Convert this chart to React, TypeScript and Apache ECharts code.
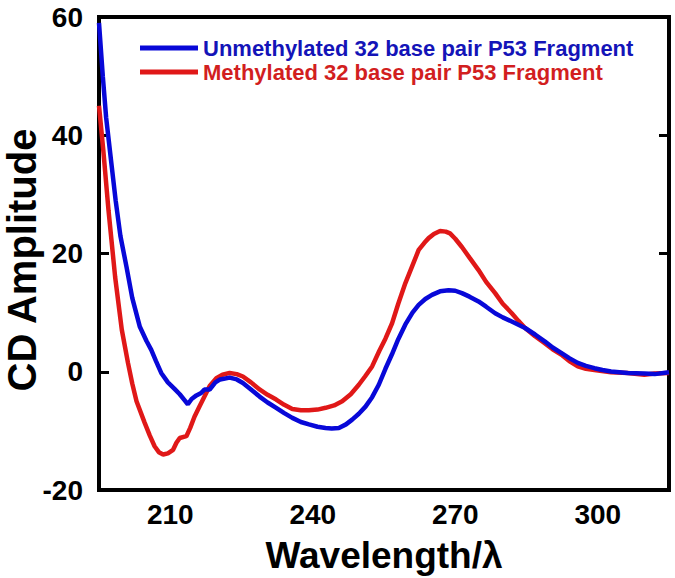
import React, { useEffect, useRef } from "react";
import * as echarts from "echarts";

const xTickLabels = [210, 240, 270, 300];
const yTickValues = [-20, 0, 20, 40, 60];

const seriesNames = [
  "Unmethylated 32 base pair P53 Fragment",
  "Methylated 32 base pair P53 Fragment",
];

const unmethWavelength = [
  195, 195.8, 196.5, 197.5, 198.5, 199.5, 200.8, 202, 203.6, 205, 206, 207, 208.1, 209.5, 210.9, 212, 213, 213.7,
  214.5, 215.5, 216.5, 217.2, 218.3, 219.5, 220.5, 222.5, 224, 225.3, 227, 228.8, 230.5, 232.3, 234, 235.7, 237.5,
  239.2, 241, 242.7, 244, 245.5, 247, 248.3, 249.7, 251.1, 252.5, 253.9, 255.3, 256.7, 258, 259.5, 261, 262.3,
  263.7, 265.1, 266.8, 268.6, 270, 271.4, 273, 274.9, 276.5, 278.4, 280, 281.9, 284.7, 286.8, 288.9, 290.5, 292.3,
  294, 295.8, 297.5, 299.3, 301, 302.8, 306.3, 309.8, 312, 315,
];
const unmethValues = [
  59, 50, 43, 36, 29, 23, 17.7, 12.5, 7.6, 5.2, 3.7, 1.8, -0.2, -1.8, -2.9, -3.8, -4.8, -5.5,
  -4.6, -4.0, -3.6, -3.0, -3.0, -1.8, -1.3, -1.0, -1.3, -1.9, -3.0, -4.2, -5.2, -6.1, -7.0, -7.8, -8.5,
  -8.9, -9.3, -9.5, -9.6, -9.5, -8.9, -8.1, -7.1, -5.9, -4.3, -2.2, 0.5, 3.0, 5.5, 8.0, 10.0, 11.3,
  12.3, 13.0, 13.6, 13.8, 13.7, 13.3, 12.7, 11.9, 11.0, 9.9, 9.2, 8.5, 7.4, 6.3, 5.1, 4.1, 3.2,
  2.3, 1.5, 1.0, 0.6, 0.3, 0.05, -0.2, -0.3, -0.4, -0.1,
];

const methWavelength = [
  195, 195.9, 197, 198.4, 199.8, 201.1, 202, 202.9, 204.6, 205.7, 206.7, 207.6, 208.5, 209.5, 210.6, 211.3, 212,
  213.4, 214.2, 215.1, 216.2, 217.2, 218.3, 219.7, 221, 222.5, 224, 225.3, 227, 228.8, 230.5, 232.3, 234, 235.7,
  237.5, 239.2, 241, 242.7, 244.5, 246.2, 248, 249.7, 251, 252.5, 254, 255.3, 256.7, 258, 259.5, 261, 262.3,
  263.5, 264.4, 265.5, 266.8, 268, 268.9, 270, 271.4, 273, 274.9, 276.5, 278.4, 280, 281.9, 283.3, 284.7, 286.8,
  288.9, 290.5, 292.3, 294, 295.8, 297.5, 299.3, 302.8, 306.3, 309.8, 312, 315,
];
const methValues = [
  45, 37.5, 27.3, 16.0, 7.1, 1.5, -2.0, -5.0, -8.6, -10.8, -12.6, -13.6, -14.0, -13.8, -13.2, -12.0, -11.2,
  -10.9, -9.5, -7.6, -5.8, -4.2, -2.4, -1.1, -0.5, -0.2, -0.4, -0.8, -1.8, -3.0, -3.9, -4.7, -5.6, -6.3,
  -6.5, -6.5, -6.4, -6.1, -5.7, -5.0, -3.8, -2.2, -0.8, 0.9, 3.5, 5.6, 8.2, 11.5, 15.0, 18.0, 20.6,
  21.8, 22.6, 23.3, 23.8, 23.7, 23.4, 22.5, 21.1, 19.3, 17.2, 15.2, 13.3, 11.5, 9.9, 8.6, 7.4, 6.0,
  4.8, 3.8, 2.9, 1.8, 0.9, 0.5, 0.3, -0.1, -0.2, -0.5, -0.3, -0.2,
];

const FONT = "Liberation Sans, Arial, sans-serif";

export default function App() {
  const ref = useRef<HTMLDivElement>(null);
  useEffect(() => {
    if (!ref.current) return;
    const chart = echarts.init(ref.current, null, { renderer: "svg" });
    const pair = (xs: number[], ys: number[]) => xs.map((x, i) => [x, ys[i]]);
    const yAxisBase = {
      type: "value" as const,
      min: yTickValues[0],
      max: yTickValues[yTickValues.length - 1],
      interval: 20,
      splitLine: { show: false },
      axisLine: { show: false },
      axisTick: { show: true, inside: true, length: 10, lineStyle: { color: "#000", width: 3 } },
    };
    chart.setOption({
      animation: false,
      backgroundColor: "#fff",
      grid: {
        left: 99,
        right: 6,
        top: 17,
        bottom: 88,
        outerBoundsMode: "none",
        containLabel: false,
        show: true,
        borderColor: "#000",
        borderWidth: 4,
        backgroundColor: "transparent",
      },
      legend: {
        orient: "vertical",
        left: 140,
        top: 37,
        padding: 0,
        itemWidth: 58,
        itemHeight: 5,
        itemGap: 2,
        icon: "rect",
        textStyle: { fontFamily: FONT, fontWeight: "bold", fontSize: 22 },
        data: [
          { name: seriesNames[0], textStyle: { color: "#1414b8" } },
          { name: seriesNames[1], textStyle: { color: "#d21f1f" } },
        ],
      },
      xAxis: {
        type: "value",
        min: 195,
        max: 315,
        interval: 15,
        name: "Wavelength/λ",
        nameLocation: "middle",
        nameGap: 47,
        nameTextStyle: { fontFamily: FONT, fontWeight: "bold", fontSize: 37, color: "#000" },
        splitLine: { show: false },
        axisLine: { show: false },
        axisTick: { show: false },
        axisLabel: {
          margin: 10,
          fontFamily: FONT,
          fontWeight: "bold",
          fontSize: 28,
          color: "#000",
          formatter: (v: number) => (xTickLabels.includes(v) ? String(v) : ""),
        },
      },
      yAxis: [
        {
          ...yAxisBase,
          position: "left",
          axisLabel: { margin: 16, fontFamily: FONT, fontWeight: "bold", fontSize: 28, color: "#000" },
        },
        {
          ...yAxisBase,
          position: "right",
          axisLabel: { show: false },
        },
      ],
      graphic: [
        {
          type: "text",
          x: 22,
          y: 260,
          rotation: Math.PI / 2,
          style: {
            text: "CD Amplitude",
            fontFamily: FONT,
            fontWeight: "bold",
            fontSize: 40,
            fill: "#000",
            align: "center",
            verticalAlign: "middle",
          },
        },
      ],
      series: [
        {
          name: seriesNames[0],
          type: "line",
          data: pair(unmethWavelength, unmethValues),
          showSymbol: false,
          symbol: "none",
          lineStyle: { color: "#0808d8", width: 4.5 },
          itemStyle: { color: "#0808d8" },
          z: 3,
        },
        {
          name: seriesNames[1],
          type: "line",
          data: pair(methWavelength, methValues),
          showSymbol: false,
          symbol: "none",
          lineStyle: { color: "#e01818", width: 4.5 },
          itemStyle: { color: "#e01818" },
          z: 2,
        },
      ],
    });
    return () => chart.dispose();
  }, []);
  return (
    <div
      ref={ref}
      style={{ position: "fixed", left: 0, top: 0, width: 675, height: 578, background: "#fff" }}
    />
  );
}
